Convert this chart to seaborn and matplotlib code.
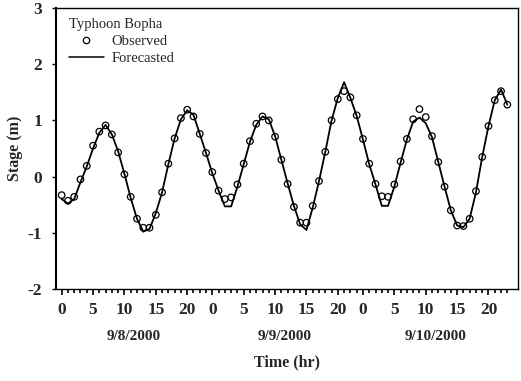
import matplotlib
matplotlib.use("Agg")
import matplotlib.pyplot as plt
import matplotlib.transforms as mtransforms
from matplotlib.lines import Line2D
from matplotlib.ticker import FixedLocator
import pandas as pd
import seaborn as sns

# Hourly stage record for Typhoon Bopha, 8-10 Sep 2000 (hours counted from 0:00 on 9/8)
hours = list(range(72))
observed = [
    -0.33, -0.43, -0.36, -0.05, 0.19, 0.55, 0.80, 0.91, 0.75, 0.43, 0.04, -0.36,
    -0.75, -0.91, -0.91, -0.68, -0.28, 0.23, 0.68, 1.04, 1.19, 1.07, 0.76, 0.42,
    0.08, -0.25, -0.40, -0.37, -0.14, 0.23, 0.63, 0.94, 1.07, 1.00, 0.71, 0.30,
    -0.13, -0.54, -0.82, -0.82, -0.52, -0.08, 0.44, 1.00, 1.38, 1.52, 1.41, 1.09,
    0.67, 0.23, -0.13, -0.35, -0.36, -0.14, 0.27, 0.67, 1.02, 1.20, 1.06, 0.72,
    0.26, -0.18, -0.60, -0.87, -0.88, -0.75, -0.26, 0.35, 0.90, 1.36, 1.52, 1.28,
]
forecasted = [
    -0.40, -0.48, -0.40, -0.10, 0.18, 0.50, 0.78, 0.92, 0.75, 0.45, 0.05, -0.38,
    -0.75, -0.98, -0.93, -0.65, -0.28, 0.22, 0.68, 1.02, 1.18, 1.10, 0.76, 0.42,
    0.06, -0.25, -0.53, -0.53, -0.18, 0.22, 0.62, 0.92, 1.07, 1.02, 0.72, 0.30,
    -0.12, -0.52, -0.85, -0.95, -0.55, -0.08, 0.44, 1.00, 1.40, 1.68, 1.40, 1.08,
    0.66, 0.22, -0.14, -0.52, -0.52, -0.18, 0.25, 0.66, 0.98, 1.05, 0.95, 0.70,
    0.26, -0.18, -0.60, -0.87, -0.90, -0.75, -0.28, 0.35, 0.90, 1.36, 1.55, 1.28,
]
day_labels = ["9/8/2000", "9/9/2000", "9/10/2000"]
hour_of_day_ticks = [0, 5, 10, 15, 20]
y_ticks = [-2, -1, 0, 1, 2, 3]

sns.set_theme(style="ticks")
plt.rcParams["font.family"] = ["Liberation Serif", "DejaVu Serif"]
plt.rcParams["axes.unicode_minus"] = False

df = pd.DataFrame({"hour": hours, "Observed": observed, "Forecasted": forecasted})

fig = plt.figure(figsize=(5.21, 3.81), dpi=100)
ax = fig.add_axes([56 / 521, 1 - 289 / 381, (518 - 56) / 521, (289 - 8) / 381])

sns.scatterplot(data=df, x="hour", y="Observed", ax=ax, marker="o", s=22,
                facecolor="none", edgecolor="black", linewidth=0.9, zorder=2,
                legend=False)
sns.lineplot(data=df, x="hour", y="Forecasted", ax=ax, color="black",
             linewidth=1.3, zorder=3, legend=False)

# axis ranges and ticks
ax.set_xlim(-0.9, 72.7)
ax.set_ylim(-2, 3)
ax.set_yticks(y_ticks)
ax.set_yticklabels([str(v) for v in y_ticks])

major = [d * 24 + h for d in range(len(day_labels)) for h in hour_of_day_ticks]
minor = [h for h in hours if h not in major]
ax.set_xticks(major)
ax.set_xticklabels([str(h % 24) for h in major])
ax.set_xticks(minor, minor=True)

ax.tick_params(axis="x", which="major", direction="out", length=4.5, width=1.2,
               pad=5, labelsize=12.5, color="black")
ax.tick_params(axis="x", which="minor", bottom=True, direction="out",
               length=3.2, width=1.2, color="black")
ax.tick_params(axis="y", which="major", direction="out", length=3, width=1.0,
               pad=7, labelsize=12.5, color="black")
ax.yaxis.set_minor_locator(FixedLocator([]))
for lab in ax.get_xticklabels() + ax.get_yticklabels():
    lab.set_fontweight("bold")

for side in ["top", "right", "bottom"]:
    ax.spines[side].set_visible(True)
    ax.spines[side].set_color("black")
    ax.spines[side].set_linewidth(1.0)
ax.spines["left"].set_color("black")
ax.spines["left"].set_linewidth(1.5)

ax.set_xlabel("Time (hr)", fontsize=11.5, fontweight="bold", labelpad=26)
ax.set_ylabel("Stage (m)", fontsize=11.5, fontweight="bold", labelpad=3)

# date captions under each day
trans = mtransforms.blended_transform_factory(ax.transData, fig.transFigure)
for i, day in enumerate(day_labels):
    ax.text(i * 24 + 11.5, 1 - 336 / 381, day, transform=trans, ha="center",
            va="center", fontsize=11, fontweight="bold")

handles = [
    Line2D([], [], marker="o", linestyle="none", markerfacecolor="none",
           markeredgecolor="black", markersize=4.6, markeredgewidth=0.9),
    Line2D([], [], color="black", linewidth=1.1),
]
leg = ax.legend(handles, ["Observed", "Forecasted"], title="Typhoon Bopha",
                loc="upper left", bbox_to_anchor=(0.015, 0.985), frameon=False,
                fontsize=10.5, title_fontsize=10.5, handlelength=2.4,
                handletextpad=0.55, labelspacing=0.25, borderaxespad=0.0,
                alignment="left")

fig.savefig("out.png", dpi=100, facecolor="white")
